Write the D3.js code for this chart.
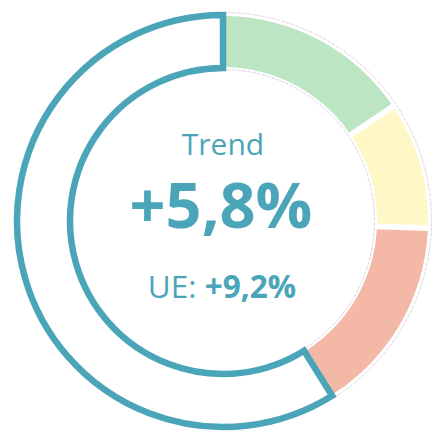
<!DOCTYPE html>
<html><head><meta charset="utf-8">
<script src="https://cdn.jsdelivr.net/npm/d3@7"></script>
<style>html,body{margin:0;padding:0;background:#fff;}svg{display:block;}</style>
</head><body>
<svg id="c" width="434" height="432"></svg>
<script>
// Data (ring shares, in degrees of the ring)
const categories = ["verde", "giallo", "rosso", "resto"];
const values = [56, 36, 56, 212];
const colors = ["#bce5c4", "#fff8c6", "#f3b8a6", "#ffffff"];
const titleText = "Trend";
const mainValue = "+5,8%";
const ueLabel = "UE: ";
const ueValue = "+9,2%";

const W = 434, H = 432, cx = 223, cy = 221;
const rIn = 153, rOut = 206;
const teal = "#4ba5b9";

const svg = d3.select("#c");
const g = svg.append("g").attr("transform", `translate(${cx},${cy})`);

const pie = d3.pie().sort(null).value(d => d);
const arcs = pie(values);

const arcCol = d3.arc().innerRadius(rIn + 1).outerRadius(rOut - 1).padAngle(0.022);
const arcTeal = d3.arc().innerRadius(rIn).outerRadius(rOut);

// faint dashed guides around coloured part
const lastColEnd = arcs[2].endAngle;
const guide = d3.arc().startAngle(0).endAngle(lastColEnd);
[rOut + 2.5, rIn - 1.5].forEach(r => {
  g.append("path")
    .attr("d", guide.innerRadius(r).outerRadius(r)())
    .attr("fill", "none").attr("stroke", "#ddd6e6")
    .attr("stroke-width", 0.8).attr("stroke-dasharray", "3,2");
});

g.selectAll("path.seg").data(arcs.slice(0, 3)).enter().append("path")
  .attr("class", "seg")
  .attr("d", arcCol)
  .attr("fill", (d, i) => colors[i]);

g.append("path")
  .datum(arcs[3])
  .attr("d", arcTeal)
  .attr("fill", colors[3])
  .attr("stroke", teal)
  .attr("stroke-width", 6.5)
  .attr("stroke-linejoin", "miter");

const font = "'Open Sans', 'Noto Sans', sans-serif";
svg.append("text").attr("x", 223).attr("y", 155)
  .attr("text-anchor", "middle").attr("font-family", font)
  .attr("font-size", 30).attr("fill", teal).text(titleText);

svg.append("text").attr("x", 221).attr("y", 228)
  .attr("text-anchor", "middle").attr("font-family", font)
  .attr("font-size", 63).attr("font-weight", 700).attr("fill", teal).text(mainValue);

const t3 = svg.append("text").attr("x", 222).attr("y", 298)
  .attr("text-anchor", "middle").attr("font-family", font)
  .attr("font-size", 31.5).attr("fill", teal);
t3.append("tspan").text(ueLabel);
t3.append("tspan").attr("font-weight", 700).text(ueValue);
</script>
</body></html>
